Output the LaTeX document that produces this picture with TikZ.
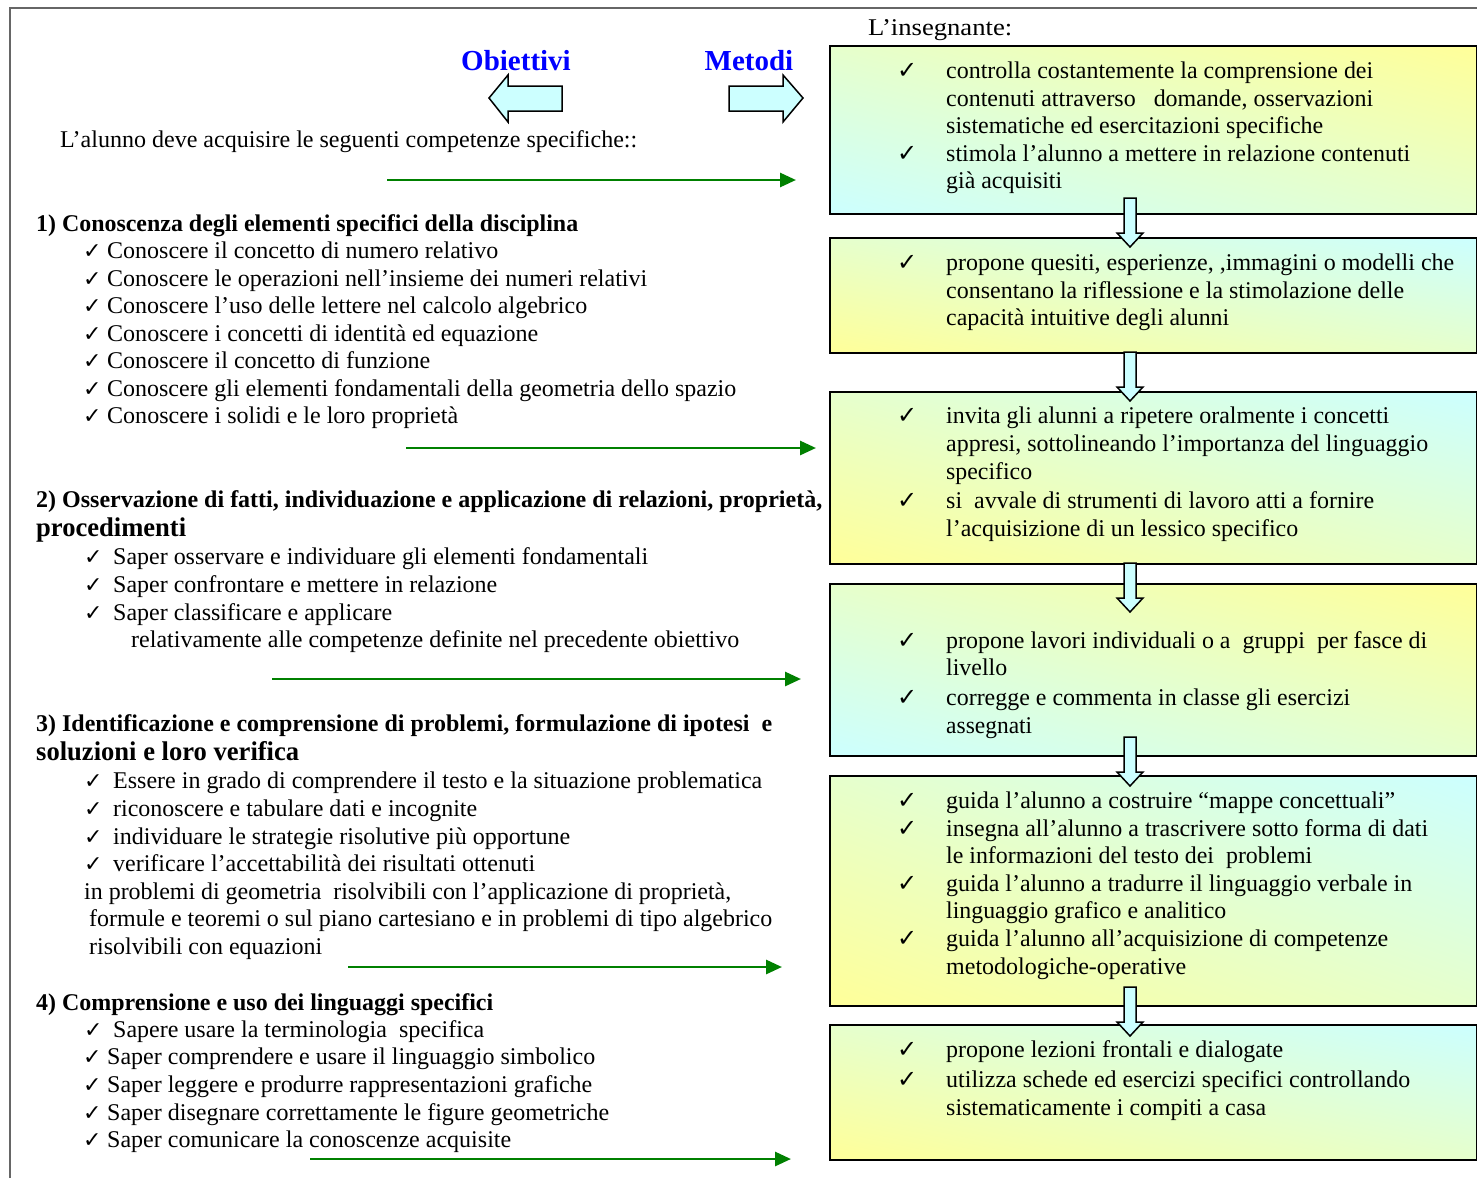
\documentclass[tikz,border=0pt]{standalone}
\usepackage{fontspec}
\setmainfont{Liberation Serif}
\newfontfamily\chkfont{DejaVu Sans}
\usetikzlibrary{shadings,arrows.meta}
\definecolor{cy}{HTML}{CCFFFF}
\definecolor{ye}{HTML}{FFFF99}
\definecolor{mi}{HTML}{E6FFCC}
\definecolor{gr}{HTML}{008000}
\definecolor{frm}{HTML}{666666}
\newsavebox\fitbox
\newlength\fitlen
\newcommand\fitw[2]{\sbox\fitbox{#2}\fitlen=\wd\fitbox\pgfmathsetmacro\fitsc{#1/\fitlen}\scalebox{\fitsc}[1]{\usebox\fitbox}}
\newcommand\T[6][txt]{\node[#1] (#2) at (#3,#4) {\fitw{#5}{#6}};}
\newcommand\CL[3]{\node[chkL] (#1) at (#2,#3) {✓};}
\newcommand\CR[2]{\node[chkR] (#1) at (897,#2) {✓};}
\tikzset{
  txt/.style={anchor=base west, inner sep=0pt, font=\fontsize{24}{28}\selectfont},
  hd/.style={txt, font=\fontsize{24}{28}\selectfont\bfseries},
  hdbig/.style={txt, font=\fontsize{27}{30}\selectfont\bfseries},
  ttl/.style={anchor=base, inner sep=0pt, text=blue, font=\fontsize{29}{32}\selectfont\bfseries},
  chkL/.style={anchor=base west, inner sep=0pt, font=\fontsize{22}{22}\chkfont},
  chkR/.style={anchor=base west, inner sep=0pt, font=\fontsize{24}{24}\chkfont\bfseries},
  boxA/.style={draw=black, line width=1.8pt, anchor=north west, minimum width=646.5, inner sep=0pt,
    lower left=cy, upper right=ye, upper left=mi, lower right=mi},
  boxB/.style={draw=black, line width=1.8pt, anchor=north west, minimum width=646.5, inner sep=0pt,
    lower left=ye, upper right=cy, upper left=mi, lower right=mi},
  hollow/.style={draw=black, line width=1.5pt, fill=cy, line join=miter},
  garrow/.style={draw=gr, line width=2.8pt, -{Triangle[length=16pt,width=14pt]}},
  frame/.style={draw=frm, line width=1.3pt}
}
\begin{document}
\begin{tikzpicture}[x=1pt,y=-1pt]
\useasboundingbox (0,0) rectangle (1477,1178);
\fill[white] (0,0) rectangle (1477,1178);
\draw[frame] (10,1178) -- (10,8) -- (1477,8);

% ---- boxes ----
\node[boxA, minimum height=168] (B1) at (829,45) {};
\node[boxB, minimum height=115] (B2) at (829,237) {};
\node[boxB, minimum height=172] (B3) at (829,391) {};
\node[boxA, minimum height=172] (B4) at (829,583) {};
\node[boxB, minimum height=230] (B5) at (829,775) {};
\node[boxB, minimum height=135] (B6) at (829,1024) {};

% ---- hollow down arrows between boxes ----
\foreach \t in {198,352,563,737,987}{
  \draw[hollow] (1124,\t) -- (1136,\t) -- (1136,\t+35) -- (1143,\t+35) -- (1130,\t+49)
    -- (1117,\t+35) -- (1124,\t+35) -- cycle;
}

% ---- big arrows ----
\draw[hollow] (489,98) -- (508,75) -- (508,86) -- (562,86) -- (562,111) -- (508,111) -- (508,122) -- cycle;
\draw[hollow] (729,86) -- (783,86) -- (783,75) -- (803,98) -- (783,122) -- (783,111) -- (729,111) -- cycle;
\node[ttl] (obj) at (516,70) {Obiettivi};
\node[ttl] (met) at (749,70) {Metodi};

% ---- green arrows ----
\coordinate (g1s) at (387,180); \coordinate (g1e) at (796,180);
\coordinate (g2s) at (406,448); \coordinate (g2e) at (816,448);
\coordinate (g3s) at (272,679); \coordinate (g3e) at (801,679);
\coordinate (g4s) at (348,967); \coordinate (g4e) at (782,967);
\coordinate (g5s) at (310,1159); \coordinate (g5e) at (791,1159);
\draw[garrow] (g1s) -- (g1e);
\draw[garrow] (g2s) -- (g2e);
\draw[garrow] (g3s) -- (g3e);
\draw[garrow] (g4s) -- (g4e);
\draw[garrow] (g5s) -- (g5e);

% ---- left column ----
\T{intro}{60}{147}{577}{L’alunno deve acquisire le seguenti competenze specifiche::}
\T[hd]{h1}{36}{231}{542}{1) Conoscenza degli elementi specifici della disciplina}
\CL{ka1}{83}{258}\T{a1}{107}{258}{391}{Conoscere il concetto di numero relativo}
\CL{ka2}{83}{286}\T{a2}{107}{286}{540}{Conoscere le operazioni nell’insieme dei numeri relativi}
\CL{ka3}{83}{313}\T{a3}{107}{313}{480}{Conoscere l’uso delle lettere nel calcolo algebrico}
\CL{ka4}{83}{341}\T{a4}{107}{341}{431}{Conoscere i concetti di identità ed equazione}
\CL{ka5}{83}{368}\T{a5}{107}{368}{323}{Conoscere il concetto di funzione}
\CL{ka6}{83}{396}\T{a6}{107}{396}{629}{Conoscere gli elementi fondamentali della geometria dello spazio}
\CL{ka7}{83}{423}\T{a7}{107}{423}{351}{Conoscere i solidi e le loro proprietà}

\T[hd]{h2a}{36}{507}{786}{2) Osservazione di fatti, individuazione e applicazione di relazioni, proprietà,}
\T[hdbig]{h2b}{36}{536}{150}{procedimenti}
\CL{kb1}{84}{564}\T{b1}{113}{564}{535}{Saper osservare e individuare gli elementi fondamentali}
\CL{kb2}{84}{592}\T{b2}{113}{592}{384}{Saper confrontare e mettere in relazione}
\CL{kb3}{84}{620}\T{b3}{113}{620}{279}{Saper classificare e applicare}
\T{b4}{131}{647}{608}{relativamente alle competenze definite nel precedente obiettivo}

\T[hd]{h3a}{36}{731}{736}{3) Identificazione e comprensione di problemi, formulazione di ipotesi\ \ e}
\T[hdbig]{h3b}{36}{760}{263}{soluzioni e loro verifica}
\CL{kc1}{84}{788}\T{c1}{113}{788}{649}{Essere in grado di comprendere il testo e la situazione problematica}
\CL{kc2}{84}{816}\T{c2}{113}{816}{364}{riconoscere e tabulare dati e incognite}
\CL{kc3}{84}{844}\T{c3}{113}{844}{457}{individuare le strategie risolutive più opportune}
\CL{kc4}{84}{871}\T{c4}{113}{871}{422}{verificare l’accettabilità dei risultati ottenuti}
\T{c5}{84}{899}{647}{in problemi di geometria\ \ risolvibili con l’applicazione di proprietà,}
\T{c6}{89}{926}{683}{formule e teoremi o sul piano cartesiano e in problemi di tipo algebrico}
\T{c7}{89}{954}{233}{risolvibili con equazioni}

\T[hd]{h4}{36}{1010}{457}{4) Comprensione e uso dei linguaggi specifici}
\CL{kd1}{84}{1037}\T{d1}{113}{1037}{371}{Sapere usare la terminologia\ \ specifica}
\CL{kd2}{83}{1064}\T{d2}{107}{1064}{488}{Saper comprendere e usare il linguaggio simbolico}
\CL{kd3}{83}{1092}\T{d3}{107}{1092}{485}{Saper leggere e produrre rappresentazioni grafiche}
\CL{kd4}{83}{1120}\T{d4}{107}{1120}{502}{Saper disegnare correttamente le figure geometriche}
\CL{kd5}{83}{1147}\T{d5}{107}{1147}{404}{Saper comunicare la conoscenze acquisite}

% ---- right column ----
\T{ins}{868}{35}{144}{L’insegnante:}
\CR{k11}{78}\T{r11}{946}{78}{427}{controlla costantemente la comprensione dei}
\T{r12}{946}{106}{427}{contenuti attraverso\ \ \ domande, osservazioni}
\T{r13}{946}{133}{377}{sistematiche ed esercitazioni specifiche}
\CR{k14}{161}\T{r14}{946}{161}{464}{stimola l’alunno a mettere in relazione contenuti}
\T{r15}{946}{188}{116}{già acquisiti}

\CR{k21}{270}\T{r21}{946}{270}{508}{propone quesiti, esperienze, ,immagini o modelli che}
\T{r22}{946}{298}{458}{consentano la riflessione e la stimolazione delle}
\T{r23}{946}{325}{283}{capacità intuitive degli alunni}

\CR{k31}{423}\T{r31}{946}{423}{443}{invita gli alunni a ripetere oralmente i concetti}
\T{r32}{946}{451}{482}{appresi, sottolineando l’importanza del linguaggio}
\T{r33}{946}{479}{86}{specifico}
\CR{k34}{508}\T{r34}{946}{508}{428}{si\ \ avvale di strumenti di lavoro atti a fornire}
\T{r35}{946}{536}{352}{l’acquisizione di un lessico specifico}

\CR{k41}{648}\T{r41}{946}{648}{481}{propone lavori individuali o a\ \ gruppi\ \ per fasce di}
\T{r42}{946}{675}{61}{livello}
\CR{k43}{705}\T{r43}{946}{705}{404}{corregge e commenta in classe gli esercizi}
\T{r44}{946}{733}{86}{assegnati}

\CR{k51}{808}\T{r51}{946}{808}{449}{guida l’alunno a costruire “mappe concettuali”}
\CR{k52}{836}\T{r52}{946}{836}{482}{insegna all’alunno a trascrivere sotto forma di dati}
\T{r53}{946}{863}{366}{le informazioni del testo dei\ \ problemi}
\CR{k54}{891}\T{r54}{946}{891}{466}{guida l’alunno a tradurre il linguaggio verbale in}
\T{r55}{946}{918}{280}{linguaggio grafico e analitico}
\CR{k56}{946}\T{r56}{946}{946}{442}{guida l’alunno all’acquisizione di competenze}
\T{r57}{946}{974}{240}{metodologiche-operative}

\CR{k61}{1057}\T{r61}{946}{1057}{337}{propone lezioni frontali e dialogate}
\CR{k62}{1087}\T{r62}{946}{1087}{464}{utilizza schede ed esercizi specifici controllando}
\T{r63}{946}{1115}{320}{sistematicamente i compiti a casa}
\end{tikzpicture}
\end{document}
